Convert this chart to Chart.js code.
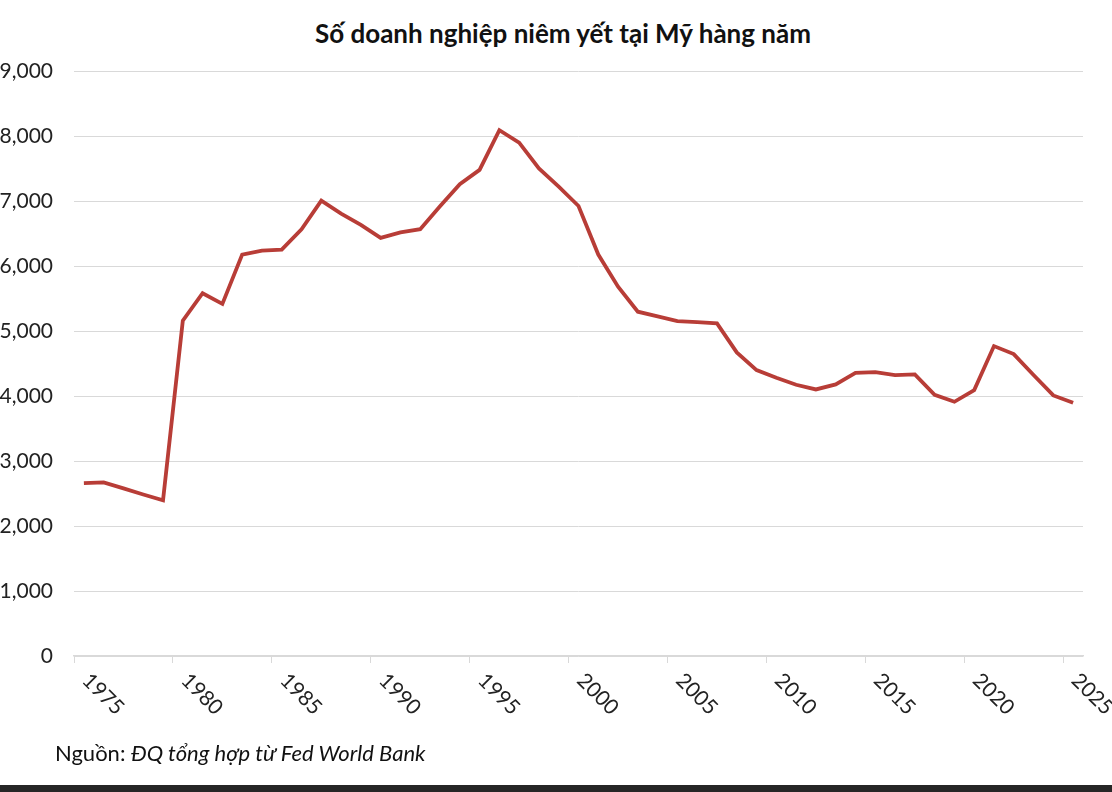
<!DOCTYPE html>
<html>
<head>
<meta charset="utf-8">
<script src="https://cdn.jsdelivr.net/npm/chart.js@4/dist/chart.umd.min.js"></script>
<style>
  html, body { margin: 0; padding: 0; background: #fff; }
  body { width: 1112px; height: 792px; position: relative; overflow: hidden; font-family: Lato, sans-serif; }
  #title { position: absolute; left: 0; top: 17px; width: 1126px; text-align: center; font-weight: bold; font-size: 26px; color: #111; }
  #wrap { position: absolute; left: 0; top: 0; width: 1112px; height: 785px; }
  #source { position: absolute; left: 55px; top: 739px; font-size: 22px; color: #111; }
  #bar { position: absolute; left: 0; top: 785px; width: 1112px; height: 7px; background: #262626; }
</style>
</head>
<body>
<div id="title">Số doanh nghiệp niêm yết tại Mỹ hàng năm</div>
<div id="wrap"><canvas id="myChart"></canvas></div>
<div id="source">Nguồn: <i>ĐQ tổng hợp từ Fed World Bank</i></div>
<div id="bar"></div>
<script>
// years 1975 .. 2025
const years = ['1975','1976','1977','1978','1979','1980','1981','1982','1983','1984',
  '1985','1986','1987','1988','1989','1990','1991','1992','1993','1994',
  '1995','1996','1997','1998','1999','2000','2001','2002','2003','2004',
  '2005','2006','2007','2008','2009','2010','2011','2012','2013','2014',
  '2015','2016','2017','2018','2019','2020','2021','2022','2023','2024','2025']

// listed companies per year
const listedCompanies = [2660, 2672, 2578, 2484, 2396, 5158, 5581, 5417, 6176, 6236,
  6253, 6566, 7006, 6807, 6632, 6433, 6516, 6566, 6918, 7259,
  7479, 8089, 7897, 7500, 7220, 6923, 6176, 5682, 5297, 5225,
  5153, 5138, 5117, 4671, 4399, 4281, 4173, 4101, 4178, 4357,
  4368, 4322, 4332, 4019, 3911, 4091, 4768, 4645, 4322, 4009, 3895]

const yMin = 0
const yMax = 9000
const yStep = 1000

// rotated year labels, reading down to the right
const xLabels = {
  id: 'xLabels',
  afterDraw(chart) {
    const ctx = chart.ctx
    const x = chart.scales.x
    ctx.save()
    ctx.font = '21px Lato'
    ctx.fillStyle = '#222'
    ctx.textAlign = 'left'
    ctx.textBaseline = 'middle'
    years.forEach((yr, i) => {
      if (i % 5 !== 0) return
      ctx.save()
      ctx.translate(x.getPixelForValue(i) + 2, x.top + 21)
      ctx.rotate(Math.PI / 4)
      ctx.fillText(yr, 0, 0)
      ctx.restore()
    })
    ctx.restore()
  }
}

const ctx = document.getElementById('myChart')

new Chart(ctx, {
  type: 'line',
  data: {
    labels: years,
    datasets: [{
      label: '',
      data: listedCompanies,
      borderColor: '#b83d37',
      borderWidth: 3.8,
      pointRadius: 0,
      tension: 0,
      fill: false
    }]
  },
  options: {
    responsive: true,
    maintainAspectRatio: false,
    animation: false,
    layout: { padding: { top: 71, right: 29, bottom: 89, left: 0 } },
    plugins: {
      legend: { display: false },
      tooltip: { enabled: false }
    },
    scales: {
      x: {
        offset: true,
        grid: {
          offset: true,
          drawOnChartArea: false,
          drawTicks: true,
          tickLength: 7,
          color: c => (c.index % 5 === 0 ? '#d9d9d9' : 'rgba(0,0,0,0)')
        },
        border: { color: '#d9d9d9', width: 1.5 },
        ticks: { display: false, autoSkip: false },
        afterFit: s => { s.height = 40 }
      },
      y: {
        min: yMin,
        max: yMax,
        grid: { color: '#d9d9d9', drawTicks: false },
        border: { display: false },
        ticks: {
          stepSize: yStep,
          padding: 21,
          color: '#222',
          font: { family: 'Lato', size: 21 },
          callback: v => v.toLocaleString('en-US')
        },
        afterFit: s => { s.width = 74 }
      }
    }
  },
  plugins: [xLabels]
})
</script>
</body>
</html>
